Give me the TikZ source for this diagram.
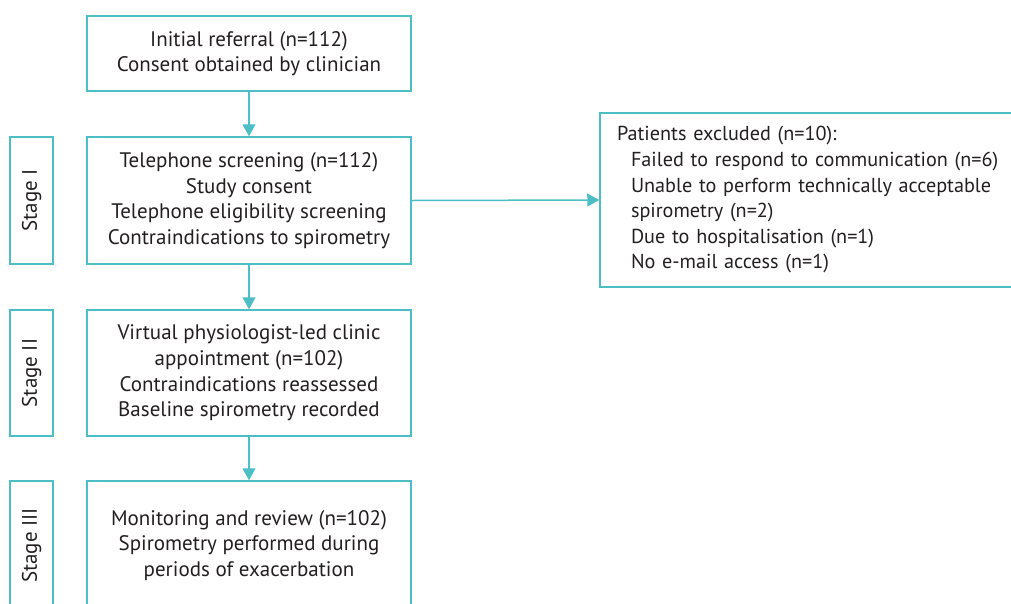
\documentclass[tikz,border=0pt]{standalone}
\usepackage{fontspec}
\setmainfont{PT Sans}
\usetikzlibrary{arrows.meta}
\definecolor{teal}{HTML}{4BBEC6}
\definecolor{txt}{HTML}{231F20}
\begin{document}
\begin{tikzpicture}[x=1pt,y=-1pt,
  box/.style={draw=teal,line width=1.5pt,minimum width=324pt,align=center,inner sep=0pt,text=txt,
    font=\fontsize{21}{25.6}\selectfont},
  stagebox/.style={draw=teal,line width=1.5pt,minimum width=43pt,inner sep=0pt,text=txt,
    font=\fontsize{21}{25.6}\selectfont},
  stagelabel/.style={rotate=90,text=txt,font=\fontsize{21}{25.6}\selectfont,inner sep=0pt},
  arr/.style={draw=teal,line width=1.5pt,-{Triangle[width=13pt,length=12pt]}}]
\useasboundingbox (0,0) rectangle (1011,603);
\clip (0,0) rectangle (1011,603);
\node[box,minimum height=75pt] (b1) at (249,53.5) {Initial referral (n=112)\\Consent obtained by clinician};
\node[box,minimum height=127pt] (b2) at (249,200.5) {Telephone screening (n=112)\\Study consent\\Telephone eligibility screening\\Contraindications to spirometry};
\node[box,minimum height=126pt] (b3) at (249,373) {Virtual physiologist-led clinic\\appointment (n=102)\\Contraindications reassessed\\Baseline spirometry recorded};
\node[box,minimum height=129pt] (b4) at (249,545.5) {Monitoring and review (n=102)\\Spirometry performed during\\periods of exacerbation};
\node[stagebox,minimum height=127pt] (s1) at (31.5,200.5) {};
\node[stagelabel] (l1) at (s1.center) {Stage I};
\node[stagebox,minimum height=126pt] (s2) at (31.5,373) {};
\node[stagelabel] (l2) at (s2.center) {Stage II};
\node[stagebox,minimum height=129pt] (s3) at (31.5,545.5) {};
\node[stagelabel] (l3) at (s3.center) {Stage III};
\node[draw=teal,line width=1.5pt,minimum width=440pt,minimum height=174pt,text width=406pt,inner xsep=17pt,inner ysep=0pt,align=left,text=txt,
  font=\fontsize{20.2}{25.6}\selectfont] (ex) at (820,200) {Patients excluded (n=10):\\
\hspace*{14pt}Failed to respond to communication (n=6)\\
\hspace*{14pt}Unable to perform technically acceptable\\
\hspace*{14pt}spirometry (n=2)\\
\hspace*{14pt}Due to hospitalisation (n=1)\\
\hspace*{14pt}No e-mail access (n=1)};
\draw[arr] (b1) -- (b2);
\draw[arr] (b2) -- (b3);
\draw[arr] (b3) -- (b4);
\draw[arr] (b2.east) -- (ex.west);
\end{tikzpicture}
\end{document}
